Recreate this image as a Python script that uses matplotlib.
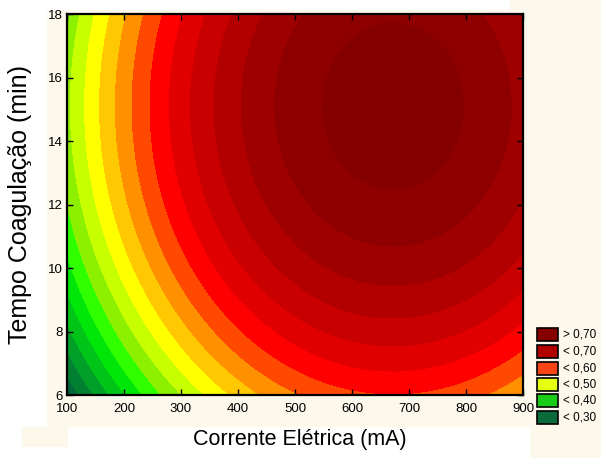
import numpy as np
import matplotlib
matplotlib.use("Agg")
import matplotlib.pyplot as plt
import matplotlib.colors as mcolors
from matplotlib.patches import Rectangle

# ---- data: fitted quadratic response surface (coefficients) ----
# z = c0 + c1*x + c2*x^2 + c3*y + c4*y^2
coef_const = -0.0993
coef_x = 1.2136e-3
coef_x2 = -9.03e-7
coef_y = 0.06028
coef_y2 = -1.996e-3

x_range = [100, 900]
y_range = [6, 18]
x_ticks = [100, 200, 300, 400, 500, 600, 700, 800, 900]
y_ticks = [6, 8, 10, 12, 14, 16, 18]

levels = [0.300, 0.325, 0.350, 0.375, 0.400, 0.425, 0.450, 0.475, 0.500,
          0.525, 0.550, 0.575, 0.600, 0.625, 0.650, 0.675, 0.700, 0.725, 0.750]
band_colors = ["#005a32", "#00673a", "#008030", "#00a028", "#00c418", "#00e608",
               "#30ff00", "#8cf000", "#c8ff00", "#ffff00", "#ffc800", "#ff9000",
               "#ff4800", "#ff0000", "#e00000", "#c80000", "#b20000", "#9e0000",
               "#8e0000", "#840000"]

legend_labels = ["> 0,70", "< 0,70", "< 0,60", "< 0,50", "< 0,40", "< 0,30"]
legend_colors = ["#860000", "#b00000", "#fa4416", "#e4ff10", "#18cc18", "#0a6a3a"]

x_label = "Corrente Elétrica (mA)"
y_label = "Tempo Coagulação (min)"

# ---- figure ----
W, H = 601, 463
fig = plt.figure(figsize=(W / 100, H / 100), dpi=100, facecolor="white")

cream = "#fdf8ec"
def px_rect(x0, y0, x1, y1):
    fig.add_artist(Rectangle((x0 / W, 1 - y1 / H), (x1 - x0) / W, (y1 - y0) / H,
                             transform=fig.transFigure, facecolor=cream,
                             edgecolor="none", zorder=-10))
px_rect(47, 10, 601, 427)
px_rect(510, 0, 601, 10)
px_rect(530, 427, 601, 458)
px_rect(22, 427, 68, 447)

ax = fig.add_axes([67 / W, 1 - 395 / H, (523 - 67) / W, (395 - 14) / H])

xs = np.linspace(x_range[0], x_range[1], 400)
ys = np.linspace(y_range[0], y_range[1], 400)
X, Y = np.meshgrid(xs, ys)
Z = coef_const + coef_x * X + coef_x2 * X ** 2 + coef_y * Y + coef_y2 * Y ** 2

cmap = mcolors.ListedColormap(band_colors[1:-1])
cmap.set_under(band_colors[0])
cmap.set_over(band_colors[-1])
norm = mcolors.BoundaryNorm(levels, cmap.N)
cs = ax.contourf(X, Y, Z, levels=levels, cmap=cmap, norm=norm, extend="both")
cs.set_edgecolor("face")
cs.set_linewidth(0.6)

ax.set_xlim(*x_range)
ax.set_ylim(*y_range)
ax.set_xticks(x_ticks)
ax.set_yticks(y_ticks)

tick_font = ["Liberation Sans", "DejaVu Sans"]
ax.set_xticklabels([str(v) for v in x_ticks], family=tick_font, fontsize=9.5)
ax.set_yticklabels([str(v) for v in y_ticks], family=tick_font, fontsize=9.5)
ax.tick_params(axis="both", direction="in", top=True, right=True, length=4,
               width=1, color="black")
ax.tick_params(axis="x", pad=6)
ax.tick_params(axis="y", pad=3)
for sp in ax.spines.values():
    sp.set_linewidth(1.6)
    sp.set_color("black")

ax.set_xlabel(x_label, family=["Liberation Sans", "DejaVu Sans"], fontsize=15.5, va="center")
ax.xaxis.set_label_coords(0.51, (395 - 440) / 381)
ax.set_ylabel(y_label, family=["Liberation Sans", "DejaVu Sans"], fontsize=18, va="center")
ax.yaxis.set_label_coords((20 - 67) / 456, 0.5)

# ---- legend ----
leg_y = [334.5, 351.5, 368.5, 384.5, 400.5, 417]
for yc, lab, col in zip(leg_y, legend_labels, legend_colors):
    fig.add_artist(Rectangle((537 / W, 1 - (yc + 6.5) / H), 21 / W, 13 / H,
                             transform=fig.transFigure, facecolor=col,
                             edgecolor="black", linewidth=1.2))
    fig.text(563 / W, 1 - yc / H, lab, family=tick_font, fontsize=8.5,
             va="center", ha="left")

fig.savefig("out.png", dpi=100, facecolor=fig.get_facecolor())
